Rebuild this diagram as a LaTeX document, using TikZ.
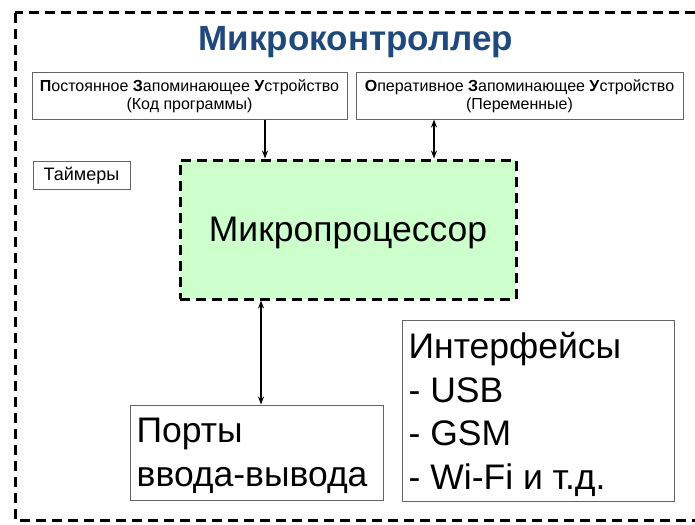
\documentclass[tikz,border=0pt]{standalone}
\usepackage{fontspec}
\setmainfont{Liberation Sans}
\usetikzlibrary{arrows.meta}
\definecolor{titleblue}{RGB}{31,73,125}
\definecolor{mpgreen}{RGB}{204,255,204}
\definecolor{boxgray}{RGB}{100,100,100}
\tikzset{
  outerdash/.style={draw=black, line width=3pt, dash pattern=on 10pt off 6pt},
  thinbox/.style={draw=boxgray, line width=1pt, inner sep=0pt},
  smalltext/.style={font=\fontsize{16}{18.5}\selectfont, align=center},
  bigtext/.style={font=\fontsize{35.5}{43.5}\selectfont, inner sep=0pt},
  conn/.style={line width=2.2pt, -{Stealth[length=8pt,width=6pt]}},
  dconn/.style={line width=2.2pt, {Stealth[length=8pt,width=6pt]}-{Stealth[length=8pt,width=6pt]}},
}
\begin{document}
\begin{tikzpicture}[x=1pt,y=-1pt]
\useasboundingbox (0,0) rectangle (695,524);
\clip (0,0) rectangle (695,524);
\fill[white] (0,0) rectangle (695,524);
\draw[outerdash] (15,13) rectangle (720,520);
\node (title) at (356,42) {\fontsize{35}{40}\selectfont\bfseries\color{titleblue}Микроконтроллер};
\node[thinbox, smalltext, minimum width=315pt, minimum height=46pt] (pzu) at (189.5,96)
  {\textbf{П}остоянное \textbf{З}апоминающее \textbf{У}стройство\\(Код программы)};
\node[thinbox, smalltext, minimum width=327pt, minimum height=46pt] (ozu) at (519.5,96)
  {\textbf{О}перативное \textbf{З}апоминающее \textbf{У}стройство\\(Переменные)};
\node[thinbox, font=\fontsize{18}{20}\selectfont, minimum width=97pt, minimum height=28pt] (tim) at (81.5,175.5) {Таймеры};
\node[outerdash, fill=mpgreen, minimum width=336pt, minimum height=139pt, inner sep=0pt] (mp) at (348,229.5) {};
\node[bigtext] (mptext) at ([yshift=-3.5pt]mp.center) {Микропроцессор};
\node[thinbox, minimum width=253pt, minimum height=95pt] (porty) at (256.5,452.5) {};
\node[bigtext, align=left, anchor=west] (portytext) at ([xshift=7pt,yshift=-3.5pt]porty.west)
  {Порты\\ввода-вывода};
\node[thinbox, minimum width=272pt, minimum height=181pt] (intf) at (538,410.5) {};
\node[bigtext, align=left, anchor=west] (intftext) at ([xshift=7pt,yshift=-4pt]intf.west)
  {Интерфейсы\\- USB\\- GSM\\- Wi-Fi и т.д.};
\coordinate (c1) at (265,0);
\coordinate (c2) at (434,0);
\coordinate (c3) at (261,0);
\draw[conn] (c1 |- pzu.south) -- (c1 |- mp.north);
\draw[dconn] (c2 |- ozu.south) -- (c2 |- mp.north);
\draw[dconn] (c3 |- mp.south) -- (c3 |- porty.north);
\end{tikzpicture}
\end{document}
